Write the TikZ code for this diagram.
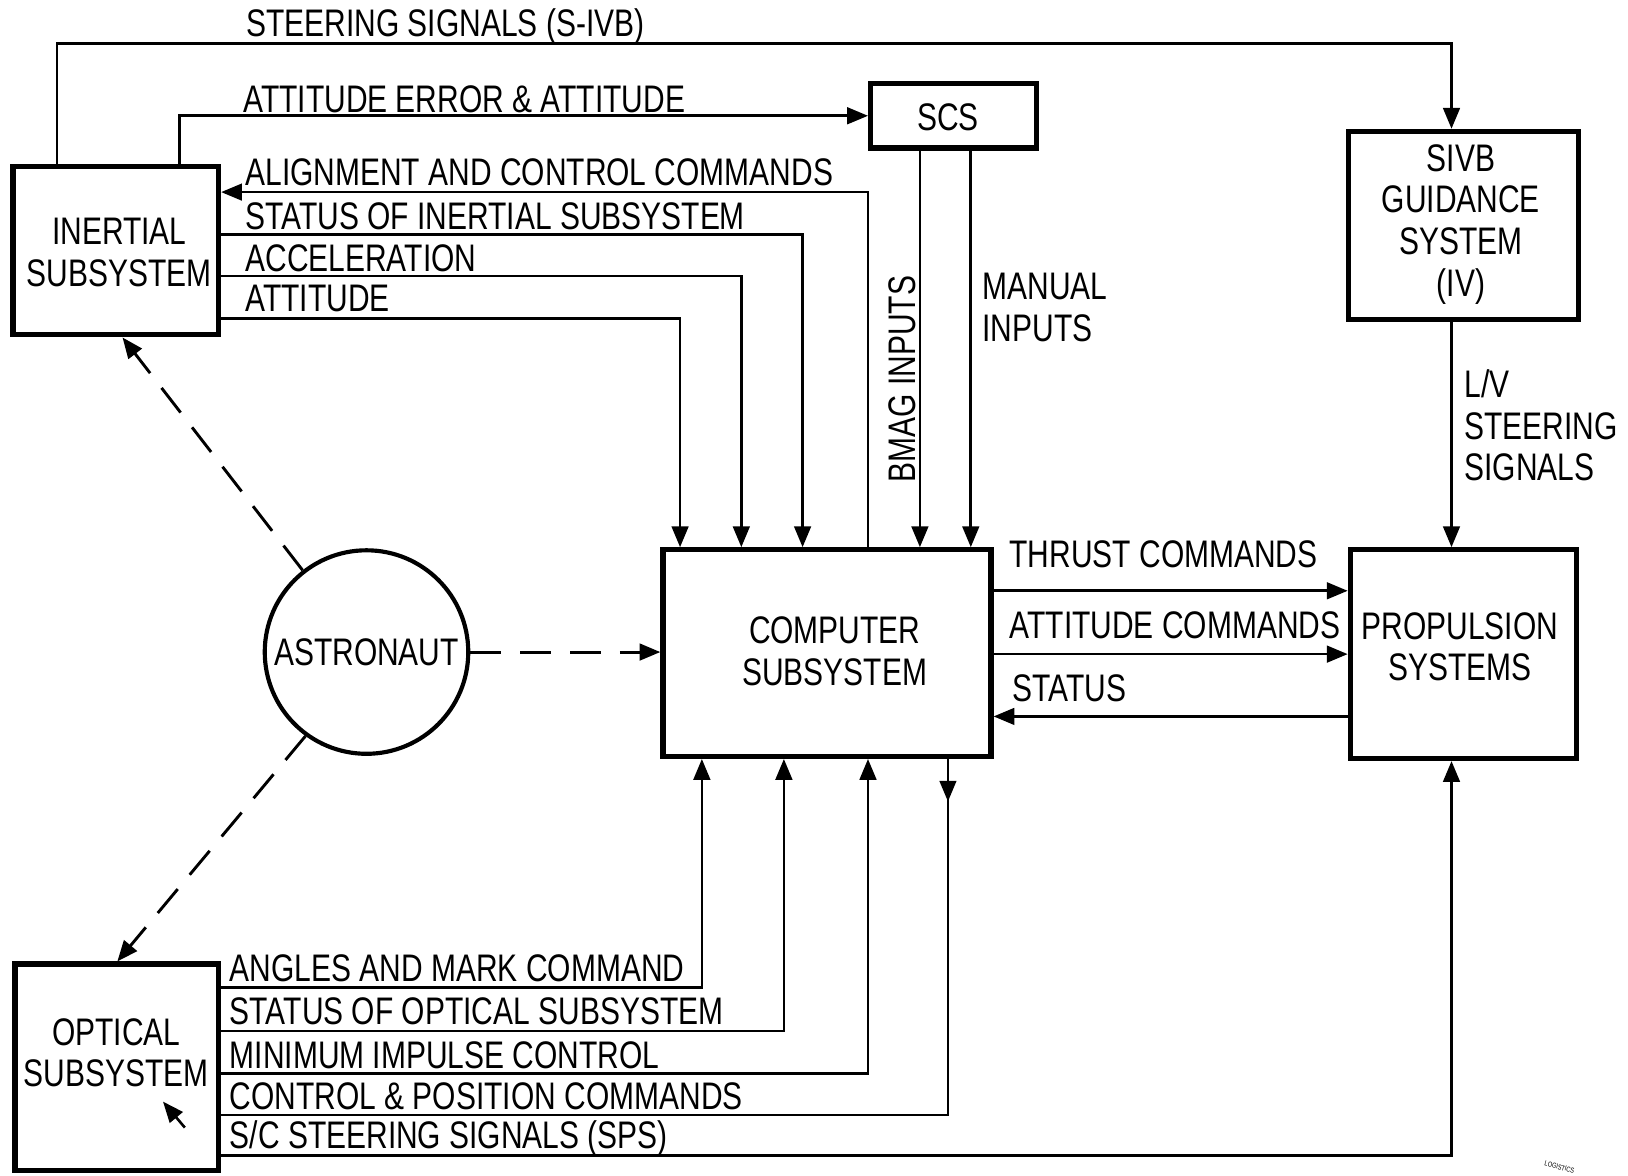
\documentclass[tikz,border=0pt]{standalone}
\usepackage{fontspec}
\setmainfont[FakeStretch=0.78]{Liberation Sans}
\usetikzlibrary{arrows.meta}
\begin{document}
\begin{tikzpicture}[x=0.5pt,y=-0.5pt,
  font=\fontsize{18.5}{20}\selectfont,
  box/.style={draw,line width=2.5pt,inner sep=0pt,align=center},
  conn/.style={line width=1.25pt},
  arr/.style={-{Triangle[length=10pt,width=8pt]}},
  dsh/.style={line width=1.4pt,dash pattern=on 15pt off 9pt},
  lbl/.style={anchor=base west,inner sep=0pt},
  lbln/.style={anchor=north west,inner sep=0pt,align=left},
  boxtext/.style={inner sep=0pt,align=center},
]
\useasboundingbox (0,0) rectangle (1568,1132);

% boxes
\node[box,minimum width=99pt,minimum height=81pt] (inertial) at (111.5,241.5) {};
\node[boxtext] (inertialt) at (115,243) {INERTIAL\\SUBSYSTEM};
\node[box,minimum width=80pt,minimum height=31pt] (scs) at (918.5,111.5) {};
\node[boxtext] (scst) at (913,113) {SCS};
\node[box,minimum width=111pt,minimum height=90.5pt] (sivb) at (1409.5,217) {};
\node[boxtext] (sivbt) at (1407,216) {SIVB\\GUIDANCE\\SYSTEM\\(IV)};
\node[box,minimum width=158pt,minimum height=99.5pt] (comp) at (796.5,629) {};
\node[boxtext] (compt) at (804,627) {COMPUTER\\SUBSYSTEM};
\node[box,minimum width=109pt,minimum height=100.5pt] (prop) at (1409.5,630) {};
\node[boxtext] (propt) at (1406,623) {PROPULSION\\SYSTEMS};
\node[box,minimum width=98pt,minimum height=99.5pt] (optical) at (112.5,1028) {};
\node[boxtext] (opticalt) at (112,1014) {OPTICAL\\SUBSYSTEM};
\node[draw,circle,line width=2pt,minimum size=98pt,inner sep=0pt] (astro) at (353,628) {ASTRONAUT};

% top connectors
\draw[conn,arr] (55,0 |- inertial.north) |- (1398,42) -- (1398,0 |- sivb.north);
\draw[conn,arr] (173,0 |- inertial.north) |- (scs.west);
\draw[conn,arr] (836,0 |- comp.north) |- (inertial.east |- 0,185);
\draw[conn,arr] (inertial.east |- 0,226) -| (773,0 |- comp.north);
\draw[conn,arr] (inertial.east |- 0,266) -| (714,0 |- comp.north);
\draw[conn,arr] (inertial.east |- 0,307) -| (655,0 |- comp.north);
\draw[conn,arr] (886,0 |- scs.south) -- (886,0 |- comp.north);
\draw[conn,arr] (935,0 |- scs.south) -- (935,0 |- comp.north);
\draw[conn,arr] (1398,0 |- sivb.south) -- (1398,0 |- prop.north);

% right connectors
\draw[conn,arr] (comp.east |- 0,569) -- (prop.west |- 0,569);
\draw[conn,arr] (comp.east |- 0,630) -- (prop.west |- 0,630);
\draw[conn,arr] (prop.west |- 0,690) -- (comp.east |- 0,690);

% astronaut
\draw[dsh,arr] (astro.east) -- (comp.west |- astro.east);
\draw[dsh,arr] (astro.128) -- (118,0 |- inertial.south);
\draw[dsh,arr] (astro.234) -- (113,0 |- optical.north);
\coordinate (oa) at (178,1086);
\coordinate (ob) at (157,1061);
\draw[conn,arr] (oa) -- (ob);

% bottom connectors
\draw[conn,arr] (optical.east |- 0,951) -| (676,0 |- comp.south);
\draw[conn,arr] (optical.east |- 0,993) -| (755,0 |- comp.south);
\draw[conn,arr] (optical.east |- 0,1034) -| (836,0 |- comp.south);
\draw[conn] (913,0 |- comp.south) |- (optical.east |- 0,1074);
\coordinate (cpa) at (913,772);
\draw[conn,arr] (913,0 |- comp.south) -- (cpa);
\draw[conn,arr] (optical.east |- 0,1113) -| (1398,0 |- prop.south);

% labels
\node[lbl] (t1) at (237,35) {STEERING SIGNALS (S-IVB)};
\node[lbl] (t2) at (234,108) {ATTITUDE ERROR \& ATTITUDE};
\node[lbl] (t3) at (236,179) {ALIGNMENT AND CONTROL COMMANDS};
\node[lbl] (t4) at (236,221) {STATUS OF INERTIAL SUBSYSTEM};
\node[lbl] (t5) at (236,261) {ACCELERATION};
\node[lbl] (t6) at (236,300) {ATTITUDE};
\node[rotate=90,inner sep=0pt] (t7) at (869,365) {BMAG INPUTS};
\node[lbln] (t8) at (946,263) {MANUAL\\INPUTS};
\node[lbln] (t9) at (1410,356) {L/V\\STEERING\\SIGNALS};
\node[lbl] (t10) at (972,547) {THRUST COMMANDS};
\node[lbl] (t11) at (972,615) {ATTITUDE COMMANDS};
\node[lbl] (t12) at (975,676) {STATUS};
\node[lbl] (t13) at (221,945) {ANGLES AND MARK COMMAND};
\node[lbl] (t14) at (221,987) {STATUS OF OPTICAL SUBSYSTEM};
\node[lbl] (t15) at (221,1029) {MINIMUM IMPULSE CONTROL};
\node[lbl] (t16) at (221,1069) {CONTROL \& POSITION COMMANDS};
\node[lbl] (t17) at (221,1106) {S/C STEERING SIGNALS (SPS)};
\node[font=\fontsize{3.5}{4}\selectfont,rotate=-15,inner sep=0pt] (logi) at (1502,1124) {LOGISTICS};
\end{tikzpicture}
\end{document}
